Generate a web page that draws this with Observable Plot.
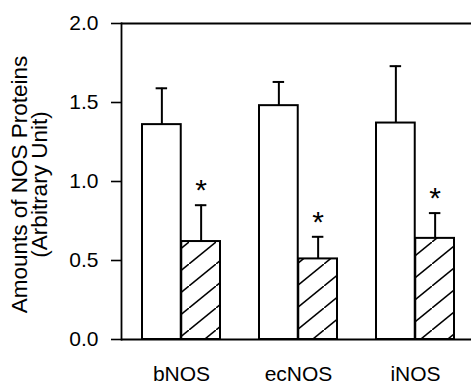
<!DOCTYPE html>
<html>
<head>
<meta charset="utf-8">
<script src="https://cdn.jsdelivr.net/npm/d3@7"></script>
<script src="https://cdn.jsdelivr.net/npm/@observablehq/plot@0.6"></script>
<style>
  html, body { margin: 0; padding: 0; background: #fff; }
</style>
</head>
<body>
<div id="chart"></div>
<script>
const categories = ["bNOS", "ecNOS", "iNOS"];
const controlMean = [1.36, 1.48, 1.37];
const controlErr = [0.23, 0.15, 0.36];
const treatedMean = [0.62, 0.51, 0.64];
const treatedErr = [0.23, 0.14, 0.16];
const yTicks = [0, 0.5, 1.0, 1.5, 2.0];
const yLabel = "Amounts of NOS Proteins\n(Arbitrary Unit)";

const control = categories.map((c, i) => ({cat: c, v: controlMean[i], e: controlErr[i]}));
const treated = categories.map((c, i) => ({cat: c, v: treatedMean[i], e: treatedErr[i]}));

// band geometry (styles)
const xRange = [121, 476];
const pInner = 0.332, pOuter = 0.176;
const step = (xRange[1] - xRange[0]) / (categories.length - pInner + 2 * pOuter);
const bw = step * (1 - pInner);
const half = bw / 2;
const q = bw / 4;
const capW = 12;
const capInset = (bw - capW) / 2;

const defs = () => {
  const svgns = "http://www.w3.org/2000/svg";
  const d = document.createElementNS(svgns, "defs");
  d.innerHTML = `<pattern id="hatch" patternUnits="userSpaceOnUse" width="27" height="22">
      <rect width="27" height="22" fill="white"></rect>
      <path d="M-2,23.6 L29,-1.6" stroke="black" stroke-width="1.6"></path>
    </pattern>`;
  return d;
};

const chart = Plot.plot({
  width: 471,
  height: 386,
  marginTop: 23,
  marginBottom: 47,
  marginLeft: 121,
  marginRight: 0,
  style: {fontFamily: "'Liberation Sans', Arial, Helvetica, sans-serif", color: "black", background: "white"},
  x: {domain: categories, range: xRange, paddingInner: pInner, paddingOuter: pOuter, axis: null},
  y: {domain: [0, 2], axis: null},
  marks: [
    defs,
    Plot.barY(control, {x: "cat", y: "v", fill: "white", stroke: "black", strokeWidth: 2, insetRight: half}),
    Plot.barY(treated, {x: "cat", y: "v", fill: "url(#hatch)", stroke: "black", strokeWidth: 2, insetLeft: half}),
    Plot.ruleX(control, {x: "cat", y1: "v", y2: d => d.v + d.e, dx: -q, strokeWidth: 2}),
    Plot.ruleX(treated, {x: "cat", y1: "v", y2: d => d.v + d.e, dx: q, strokeWidth: 2}),
    Plot.tickY(control, {x: "cat", y: d => d.v + d.e, dx: -q, insetLeft: capInset, insetRight: capInset, strokeWidth: 2}),
    Plot.tickY(treated, {x: "cat", y: d => d.v + d.e, dx: q, insetLeft: capInset, insetRight: capInset, strokeWidth: 2}),
    Plot.text(treated, {x: "cat", y: d => d.v + d.e, text: () => "*", dx: q, dy: -14.5, fontSize: 30}),
    Plot.ruleY([0, 2], {strokeWidth: 1.8}),
    Plot.frame({anchor: "left", strokeWidth: 1.8}),
    Plot.axisY({ticks: yTicks, tickFormat: d3.format(".1f"), tickSize: 10, tickPadding: 13, fontSize: 21, strokeWidth: 1.6, label: null}),
    Plot.axisX({tickSize: 0, tickPadding: 27, fontSize: 21, label: null}),
    Plot.text([yLabel], {text: d => d, frameAnchor: "left", textAnchor: "middle", rotate: -90, dx: -91, dy: 3, fontSize: 22.5, lineHeight: 0.88})
  ]
});
document.getElementById("chart").appendChild(chart);
</script>
</body>
</html>
